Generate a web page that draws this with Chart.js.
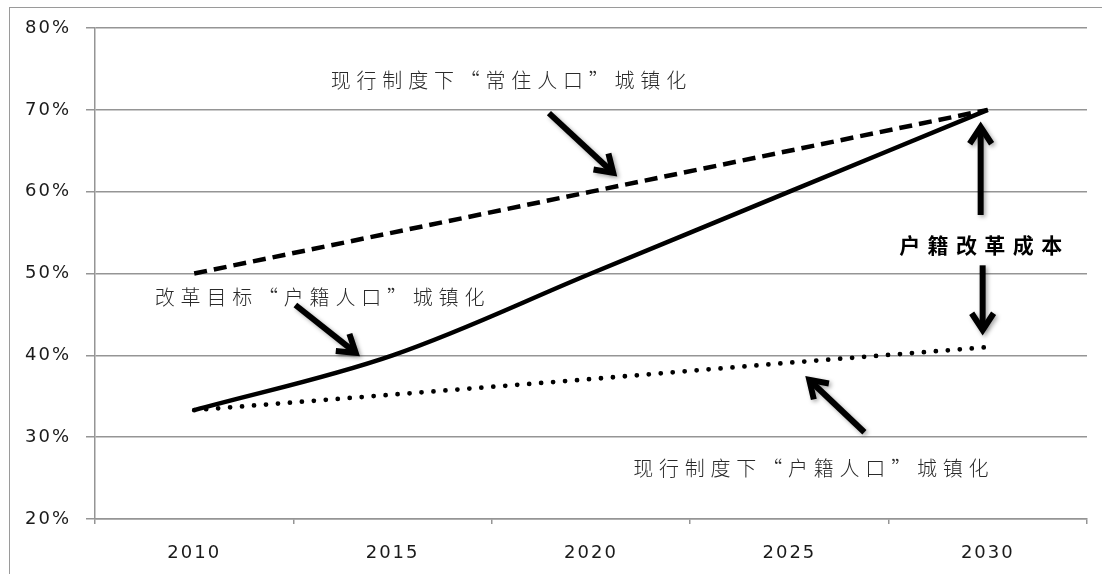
<!DOCTYPE html>
<html>
<head>
<meta charset="utf-8">
<script src="https://cdn.jsdelivr.net/npm/chart.js@4"></script>
<style>
  html, body { margin: 0; padding: 0; background: #fff; }
  #wrap { position: relative; width: 1102px; height: 574px; overflow: hidden; }
  #frame { position: absolute; left: 9px; top: 7px; width: 1200px; height: 700px; border: 1.5px solid #9a9a9a; }
  #box { position: absolute; left: 0; top: 0; width: 1102px; height: 574px; }
</style>
</head>
<body>
<div id="wrap">
  <div id="frame"></div>
  <div id="box"><canvas id="urbanChart"></canvas></div>
</div>
<script>
const years = ["2010", "2015", "2020", "2025", "2030"];
const residentRate = [50, 55, 60, 65, 70];          // 现行制度下 常住人口 城镇化
const reformHukouRate = [33.3, 40, 50, 60, 70];     // 改革目标 户籍人口 城镇化
const currentHukouRate = [33.3, 35.2, 37.1, 39.1, 41]; // 现行制度下 户籍人口 城镇化
const yMin = 20, yMax = 80, yStep = 10;

// labels placed in data units: [year, percent]
const noteTexts = ["现行制度下“常住人口”城镇化", "改革目标“户籍人口”城镇化", "户籍改革成本", "现行制度下“户籍人口”城镇化"];
const noteAt = [[2017.92, 73.6], [2013.16, 47.1], [2029.82, 53.5], [2025.54, 26.2]];
const noteBold = [false, false, true, false];

// arrows: tail -> head, in [year, percent]
const arrowFrom = [[2018.94, 69.6], [2012.55, 46.15], [2029.82, 57.15], [2029.87, 51.0], [2026.89, 30.6]];
const arrowTo = [[2020.56, 62.3], [2014.07, 40.3], [2029.82, 67.9], [2029.87, 43.1], [2025.5, 37.0]];

const notesPlugin = {
  id: "notes",
  afterDatasetsDraw(chart) {
    const { ctx, scales: { x, y } } = chart;
    const px = (yr) => x.getPixelForValue((yr - 2010) / 5);
    const py = (v) => y.getPixelForValue(v);

    ctx.save();
    ctx.strokeStyle = "#000";
    ctx.lineWidth = 6;
    ctx.lineCap = "butt";
    ctx.lineJoin = "miter";
    ctx.shadowColor = "rgba(0,0,0,0.35)";
    ctx.shadowBlur = 4;
    ctx.shadowOffsetX = 2;
    ctx.shadowOffsetY = 2;
    arrowFrom.forEach((a, i) => {
      const x0 = px(a[0]), y0 = py(a[1]);
      const x1 = px(arrowTo[i][0]), y1 = py(arrowTo[i][1]);
      const ang = Math.atan2(y1 - y0, x1 - x0);
      const len = 20, spread = 0.58;
      ctx.beginPath();
      ctx.moveTo(x0, y0);
      ctx.lineTo(x1 - 2 * Math.cos(ang), y1 - 2 * Math.sin(ang));
      ctx.stroke();
      ctx.beginPath();
      ctx.moveTo(x1 - len * Math.cos(ang - spread), y1 - len * Math.sin(ang - spread));
      ctx.lineTo(x1, y1);
      ctx.lineTo(x1 - len * Math.cos(ang + spread), y1 - len * Math.sin(ang + spread));
      ctx.stroke();
    });
    ctx.restore();

    // each character placed on a fixed advance, so no extra letter spacing here
    ctx.save();
    ctx.letterSpacing = "0px";
    ctx.textAlign = "center";
    ctx.textBaseline = "middle";
    noteTexts.forEach((t, i) => {
      const chars = Array.from(t);
      const adv = noteBold[i] ? 28.4 : 25.8;
      ctx.font = (noteBold[i] ? "bold 21px" : "300 20px") + ' "Noto Sans CJK SC", sans-serif';
      ctx.fillStyle = noteBold[i] ? "#000" : "#2a2a2a";
      const cx = px(noteAt[i][0]), cy = py(noteAt[i][1]);
      const start = cx - (chars.length - 1) * adv / 2;
      chars.forEach((c, k) => ctx.fillText(c, start + k * adv, cy));
    });
    ctx.restore();
  },
};

// wider tick labels
const spacingPlugin = {
  id: "spacing",
  beforeDraw(chart) { chart.ctx.letterSpacing = "2px"; },
  afterDraw(chart) { chart.ctx.letterSpacing = "0px"; },
};

const gridColor = "#959595";

new Chart(document.getElementById("urbanChart"), {
  type: "line",
  data: {
    labels: years,
    datasets: [
      {
        label: "现行制度下“常住人口”城镇化",
        data: residentRate,
        borderColor: "#000",
        borderWidth: 4.5,
        borderDash: [13, 7],
        pointRadius: 0,
        tension: 0,
      },
      {
        label: "改革目标“户籍人口”城镇化",
        data: reformHukouRate,
        borderColor: "#000",
        borderWidth: 4.5,
        pointRadius: 0,
        tension: 0.35,
      },
      {
        label: "现行制度下“户籍人口”城镇化",
        data: currentHukouRate,
        borderColor: "#000",
        borderWidth: 4.8,
        borderDash: [0, 12],
        borderCapStyle: "round",
        pointRadius: 0,
        tension: 0,
      },
    ],
  },
  options: {
    responsive: true,
    maintainAspectRatio: false,
    animation: false,
    layout: { padding: { top: 28, right: 15, left: 0, bottom: 0 } },
    plugins: { legend: { display: false }, tooltip: { enabled: false } },
    scales: {
      x: {
        offset: true,
        grid: { offset: true, drawOnChartArea: false, drawTicks: true, tickLength: 5, color: gridColor, lineWidth: 1.5 },
        border: { color: gridColor, width: 1.5 },
        ticks: { color: "#1a1a1a", font: { family: "DejaVu Sans", size: 18 }, padding: 19, maxRotation: 0 },
        afterFit(scale) { scale.height = 55; },
      },
      y: {
        min: yMin,
        max: yMax,
        grid: { color: gridColor, lineWidth: 1.5, tickLength: 9 },
        border: { color: gridColor, width: 1.5 },
        ticks: {
          stepSize: yStep,
          color: "#1a1a1a",
          font: { family: "DejaVu Sans", size: 18 },
          padding: 15,
          callback: (v) => v + "%",
        },
        afterFit(scale) { scale.width = 95; },
      },
    },
  },
  plugins: [spacingPlugin, notesPlugin],
});
</script>
</body>
</html>
